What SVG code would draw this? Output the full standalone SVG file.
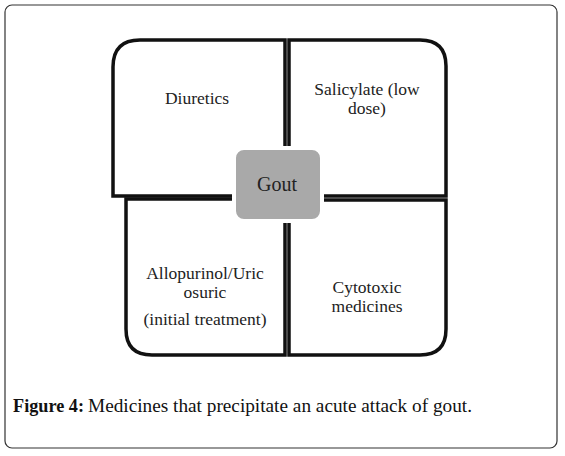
<svg xmlns="http://www.w3.org/2000/svg" width="565" height="456" viewBox="0 0 565 456">
<style>
.q{fill:#fff;stroke:#111;stroke-width:3.5}
.t{font-family:"Liberation Serif",serif;font-size:17.5px;fill:#222;text-anchor:middle}
.cap{font-family:"Liberation Serif",serif;font-size:18px;fill:#111}
</style>
<rect x="5" y="5" width="552" height="443" rx="7" fill="#fff" stroke="#333" stroke-width="1.2"/>
<g id="diuretics">
<path class="q" d="M113,196 V67 Q113,40 140,40 H285 V196 Z"/>
<text class="t" x="197" y="104">Diuretics</text>
</g>
<g id="salicylate">
<path class="q" d="M289,196 V40 H420 Q446,40 446,66 V196 Z"/>
<text class="t" x="367" y="95">Salicylate (low</text>
<text class="t" x="367" y="114">dose)</text>
</g>
<g id="allopurinol">
<path class="q" d="M126,199 H285 V355 H152 Q126,355 126,329 Z"/>
<text class="t" x="205" y="279">Allopurinol/Uric</text>
<text class="t" x="205" y="298">osuric</text>
<text class="t" x="205" y="325">(initial treatment)</text>
</g>
<g id="cytotoxic">
<path class="q" d="M289,200 H446 V329 Q446,355 420,355 H289 Z"/>
<text class="t" x="367" y="293">Cytotoxic</text>
<text class="t" x="367" y="312">medicines</text>
</g>
<g id="connectors"></g>
<g id="gout">
<rect x="234" y="148" width="88" height="73" rx="10" fill="#a9a9a9" stroke="#fff" stroke-width="4"/>
<text class="t" x="277" y="191" style="font-size:20px">Gout</text>
</g>
<text class="cap" x="13" y="412" font-weight="bold" textLength="71" lengthAdjust="spacingAndGlyphs">Figure 4:</text>
<text class="cap" x="88" y="412" textLength="384" lengthAdjust="spacingAndGlyphs">Medicines that precipitate an acute attack of gout.</text>
</svg>
